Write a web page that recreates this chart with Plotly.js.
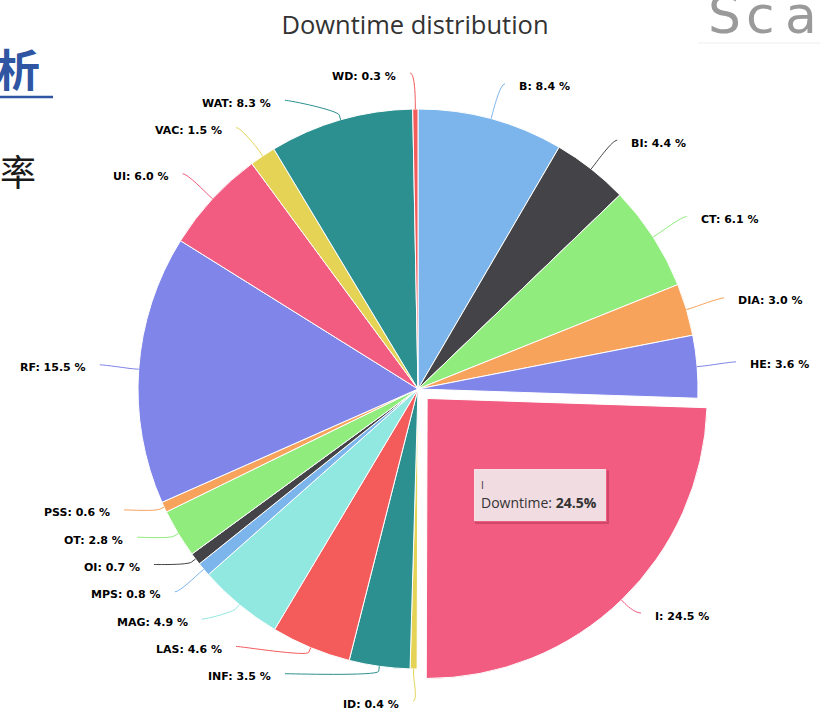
<!DOCTYPE html>
<html><head><meta charset="utf-8">
<script src="https://cdn.plot.ly/plotly-3.0.1.min.js"></script>
<style>html,body{margin:0;padding:0;background:#fff;overflow:hidden}#chart{width:820px;height:717px}</style>
</head><body><div id="chart"></div>
<script>
// ---- data ----
const categories = ['B','BI','CT','DIA','HE','I','ID','INF','LAS','MAG','MPS','OI','OT','PSS','RF','UI','VAC','WAT','WD'];
const downtime = [8.4,4.4,6.1,3.0,3.6,24.5,0.4,3.5,4.6,4.9,0.8,0.7,2.8,0.6,15.5,6.0,1.5,8.3,0.3];
const sliceColors = ['#7cb5ec','#434348','#90ed7d','#f7a35c','#8085e9','#f15c80','#e4d354','#2b908f','#f45b5b','#91e8e1',
                     '#7cb5ec','#434348','#90ed7d','#f7a35c','#8085e9','#f15c80','#e4d354','#2b908f','#f45b5b'];
const pulledCategory = 'I';
const seriesName = 'Downtime';
const chartTitle = 'Downtime distribution';
const logoLetters = ['S','c','a'];

// ---- geometry (pixels) ----
const W = 820, H = 717;
const cx = 418, cy = 389, r = 280, pull = 0.047;
const lcx = 418, lcy = 387, lR = 314, spacing = 27.3, yMax = 701;
const px = x => x / W, py = y => 1 - y / H;

const total = downtime.reduce((a, b) => a + b, 0);
let cum = 0;
const pts = categories.map((c, i) => {
  const a = (cum + downtime[i] / 2) / total * 2 * Math.PI;
  cum += downtime[i];
  const sx = Math.sin(a), sy = -Math.cos(a);
  const off = c === pulledCategory ? pull * r : 0;
  const touch = {x: cx + (r + off) * sx, y: cy + (r + off) * sy};
  const brk = {x: touch.x + 5 * sx, y: touch.y + 5 * sy};
  return {i, c, right: a < Math.PI, touch, brk, y: lcy + lR * sy};
});

// distribute labels on each side
[true, false].forEach(side => {
  const s = pts.filter(p => p.right === side).sort((a, b) => a.y - b.y);
  for (let k = 1; k < s.length; k++) s[k].y = Math.max(s[k].y, s[k - 1].y + spacing);
  for (let k = s.length - 1; k >= 0; k--) {
    s[k].y = Math.min(s[k].y, k === s.length - 1 ? yMax : s[k + 1].y - spacing);
  }
});

const shapes = [], annotations = [];
pts.forEach(p => {
  const dy = p.y - lcy;
  const dx = Math.sqrt(Math.max(0, lR * lR - dy * dy));
  const sgn = p.right ? 1 : -1;
  const lx = lcx + sgn * dx;
  const ex = lx + sgn * 5, ey = p.y;
  const c1x = ex - sgn * 5;
  const c2x = 2 * p.brk.x - p.touch.x, c2y = 2 * p.brk.y - p.touch.y;
  const path = `M ${px(ex)} ${py(ey)} C ${px(c1x)} ${py(ey)} ${px(c2x)} ${py(c2y)} ${px(p.brk.x)} ${py(p.brk.y)} L ${px(p.touch.x)} ${py(p.touch.y)}`;
  shapes.push({type: 'path', xref: 'paper', yref: 'paper', path, layer: 'above',
               line: {color: sliceColors[p.i], width: 1}});
  annotations.push({xref: 'paper', yref: 'paper', x: px(lx + sgn * 17), y: py(p.y + 3),
    xanchor: p.right ? 'left' : 'right', yanchor: 'middle', showarrow: false,
    text: '<b>' + p.c + ': ' + downtime[p.i].toFixed(1) + ' %</b>',
    font: {family: 'DejaVu Sans', size: 11, color: '#000'}});
});

// tooltip (hover box over the pulled slice)
const ti = categories.indexOf(pulledCategory);
shapes.push({type: 'rect', xref: 'paper', yref: 'paper', layer: 'above',
  x0: px(475), x1: px(609), y0: py(470.5), y1: py(524), fillcolor: 'rgba(120,20,50,0.28)', line: {width: 0}});
annotations.push({xref: 'paper', yref: 'paper', x: px(473), y: py(468), xanchor: 'left', yanchor: 'top',
  showarrow: false, align: 'left', valign: 'middle', bgcolor: 'rgba(247,247,247,0.85)', bordercolor: sliceColors[ti],
  borderwidth: 1, borderpad: 7, width: 118, height: 38,
  text: '<span style="font-size:10px">' + pulledCategory + '</span><br>' + seriesName + ': <b>' + downtime[ti].toFixed(1) + '%</b>',
  font: {family: 'Open Sans', size: 14, color: '#333'}});

// page fragments around the chart
annotations.push({xref: 'paper', yref: 'paper', x: px(-6), y: py(68), xanchor: 'left', yanchor: 'middle', showarrow: false,
  text: '<b>析</b>', font: {family: 'Noto Sans CJK SC', size: 44, color: '#2f55a3'}});
annotations.push({xref: 'paper', yref: 'paper', x: px(18), y: py(170), xanchor: 'center', yanchor: 'middle', showarrow: false,
  text: '率', font: {family: 'Noto Sans CJK SC', size: 36, color: '#1a1a1a'}});
const logoX = [706, 744, 783];
logoLetters.forEach((ch, k) => annotations.push({xref: 'paper', yref: 'paper', x: px(logoX[k]), y: py(-17), xanchor: 'left', yanchor: 'top',
  showarrow: false, text: ch, font: {family: 'DejaVu Sans', size: 52, color: '#9a9a9a'}}));
shapes.push({type: 'line', xref: 'paper', yref: 'paper', x0: 0, x1: px(53), y0: py(97), y1: py(97), line: {color: '#2f55a3', width: 2.5}});
shapes.push({type: 'line', xref: 'paper', yref: 'paper', x0: px(698), x1: 1, y0: py(43), y1: py(43), line: {color: '#eeeeee', width: 1}});

const half = r * (1 + pull);
const trace = {
  type: 'pie', labels: categories, values: downtime, sort: false, direction: 'clockwise', rotation: 0,
  pull: categories.map(c => c === pulledCategory ? pull : 0),
  marker: {colors: sliceColors, line: {color: '#ffffff', width: 1}},
  textinfo: 'none', hoverinfo: 'none', showlegend: false,
  domain: {x: [px(cx - half), px(cx + half)], y: [py(cy + half), py(cy - half)]}
};

const layout = {
  width: W, height: H, margin: {l: 0, r: 0, t: 0, b: 0, pad: 0},
  paper_bgcolor: '#fff', plot_bgcolor: '#fff', showlegend: false,
  title: {text: chartTitle, x: px(415), xanchor: 'center', xref: 'container', y: py(25), yanchor: 'middle', yref: 'container',
          font: {family: 'Open Sans', size: 25.5, color: '#333333'}},
  shapes, annotations
};
Plotly.newPlot('chart', [trace], layout, {displayModeBar: false, staticPlot: true});
</script></body></html>
